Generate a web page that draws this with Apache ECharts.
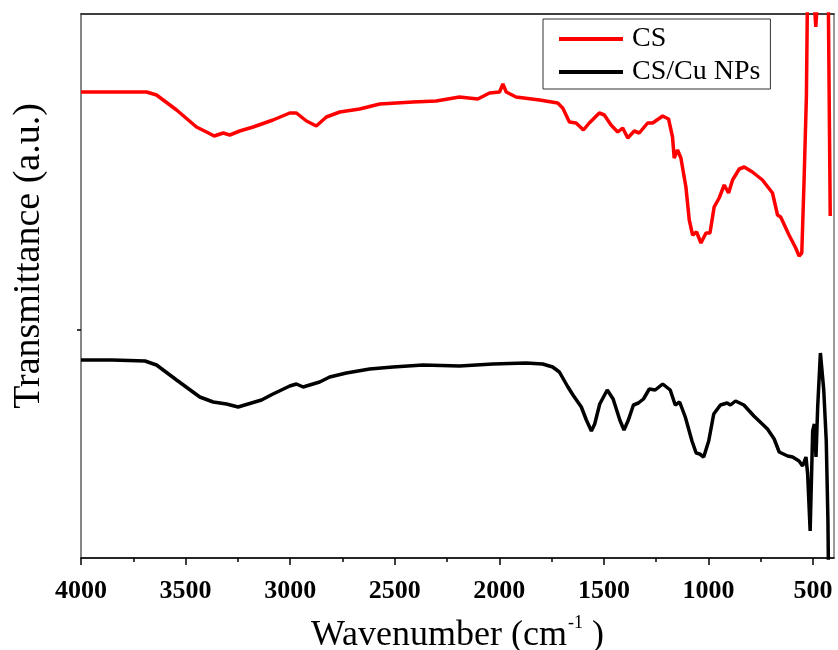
<!DOCTYPE html>
<html>
<head>
<meta charset="utf-8">
<script src="https://cdn.jsdelivr.net/npm/echarts@6/dist/echarts.min.js"></script>
<style>html,body{margin:0;padding:0;background:#fff}#c{width:838px;height:650px}</style>
</head>
<body>
<div id="c"></div>
<script>
// Wavenumber (cm-1) and transmittance (a.u.)
const csWave = [4000,3850,3686,3639,3543,3448,3400,3363,3320,3289,3241,3177,3082,3002,2970,2922,2875,2827,2763,2668,2572,2413,2302,2190,2103,2047,1999,1983,1967,1920,1808,1721,1697,1665,1633,1598,1570,1522,1498,1466,1434,1410,1386,1355,1331,1291,1267,1219,1191,1172,1164,1148,1132,1108,1092,1076,1057,1036,1012,993,973,949,925,904,885,853,829,790,742,694,670,655,615,583,567,554,543,532,524,505,492,487,482,470,440,428,418];
const csT = [466,466,466,463,448,431,426,422,425,423,427,431,438,445,445,437,432,441,446,449,454,456,457,461,459,465,466,474,466,461,458,455,450,436,435,428,435,445,443,433,426,430,420,427,425,435,435,442,439,421,400,408,400,371,338,323,326,315,325,325,351,360,373,365,378,389,391,386,378,365,343,341,323,310,302,305,378,461,618,618,548,531,548,618,618,578,342];

const cuWave = [4000,3850,3694,3639,3543,3432,3368,3304,3249,3185,3137,3082,3002,2970,2938,2891,2859,2811,2731,2620,2509,2365,2190,2031,1872,1793,1745,1713,1704,1672,1648,1608,1584,1560,1544,1520,1484,1456,1424,1404,1383,1359,1335,1311,1283,1255,1219,1183,1159,1138,1111,1079,1059,1042,1023,999,975,943,911,895,871,831,783,718,686,662,622,598,567,550,534,526,514,502,494,486,478,465,449,437,429,424];
const cuT = [198,198,197,193,178,161,156,154,151,155,158,164,172,174,171,174,176,181,185,189,191,193,192,194,195,194,191,186,184,171,163,151,138,127,134,154,168,159,138,128,138,153,155,159,169,168,174,168,153,156,141,117,105,104,101,117,144,153,155,153,157,153,142,129,119,106,102,101,97,92,101,84,27,127,134,101,151,205,168,117,37,-62];

const majorTicks = [4000,3500,3000,2500,2000,1500,1000,500];
const minorTicks = [3750,3250,2750,2250,1750,1250,750];

const seriesNames = ['CS', 'CS/Cu NPs'];
const seriesColors = ['#ff0000', '#000000'];

const pairs = (w, t) => w.map((x, i) => [x, t[i]]);

const FONT = '"Liberation Serif", "Times New Roman", serif';
const chart = echarts.init(document.getElementById('c'), null, {renderer: 'canvas'});

chart.setOption({
  animation: false,
  backgroundColor: '#fff',
  grid: {left: 81, right: 4, top: 14, bottom: 92, containLabel: false, outerBoundsMode: 'none',
         show: true, borderColor: '#777', borderWidth: 1.5, backgroundColor: 'transparent'},
  legend: {
    orient: 'vertical', left: 543, top: 19,
    data: seriesNames,
    icon: 'rect', itemWidth: 64, itemHeight: 4, itemGap: 5,
    padding: [6, 10, 3, 16],
    borderColor: '#333', borderWidth: 1,
    textStyle: {fontFamily: FONT, fontSize: 28, color: '#000', lineHeight: 27, padding: [0, 0, 0, 4]}
  },
  xAxis: [{
    type: 'value', inverse: true, min: 400, max: 4000,
    name: '{a|Wavenumber (cm}{s|-1}{a| )}', nameLocation: 'middle', nameGap: 56,
    nameTextStyle: {rich: {
      a: {fontFamily: FONT, fontSize: 36, color: '#000', lineHeight: 40, verticalAlign: 'bottom'},
      s: {fontFamily: FONT, fontSize: 18, color: '#000', lineHeight: 40, verticalAlign: 'top', padding: [0, 0, 0, 1]}
    }},
    axisLine: {show: true, lineStyle: {color: '#000', width: 1.5}},
    axisTick: {show: true, customValues: majorTicks, length: 7, lineStyle: {color: '#000', width: 1.5}},
    axisLabel: {customValues: majorTicks, formatter: v => String(v), fontFamily: FONT, fontSize: 26, fontWeight: 'bold', color: '#000', margin: 20},
    splitLine: {show: false}
  }, {
    type: 'value', inverse: true, min: 400, max: 4000, position: 'bottom',
    axisLine: {show: false},
    axisTick: {show: true, customValues: minorTicks, length: 4, lineStyle: {color: '#000', width: 1.5}},
    axisLabel: {show: false},
    splitLine: {show: false}
  }, {
    type: 'value', inverse: true, min: 400, max: 4000, position: 'top',
    axisLine: {show: true, lineStyle: {color: '#222', width: 1.5}},
    axisTick: {show: false}, axisLabel: {show: false}, splitLine: {show: false}
  }],
  yAxis: {
    type: 'value', min: 0, max: 544,
    axisLine: {show: true, lineStyle: {color: '#808080', width: 1.5}},
    axisTick: {show: true, customValues: [228], length: 4, lineStyle: {color: '#000', width: 1.5}},
    axisLabel: {show: false},
    splitLine: {show: false}
  },
  graphic: [{
    type: 'text', x: 29, y: 256, rotation: Math.PI / 2,
    style: {text: 'Transmittance (a.u.)', font: '38px ' + FONT, fill: '#000', textAlign: 'center', textVerticalAlign: 'middle'}
  }],
  series: [{
    name: seriesNames[0], type: 'line', data: pairs(csWave, csT), showSymbol: false, symbol: 'none',
    lineStyle: {color: seriesColors[0], width: 3.5}, itemStyle: {color: seriesColors[0]}, clip: true, z: 3
  }, {
    name: seriesNames[1], type: 'line', data: pairs(cuWave, cuT), showSymbol: false, symbol: 'none',
    lineStyle: {color: seriesColors[1], width: 3.5}, itemStyle: {color: seriesColors[1]}, clip: true, z: 2
  }]
});
</script>
</body>
</html>
